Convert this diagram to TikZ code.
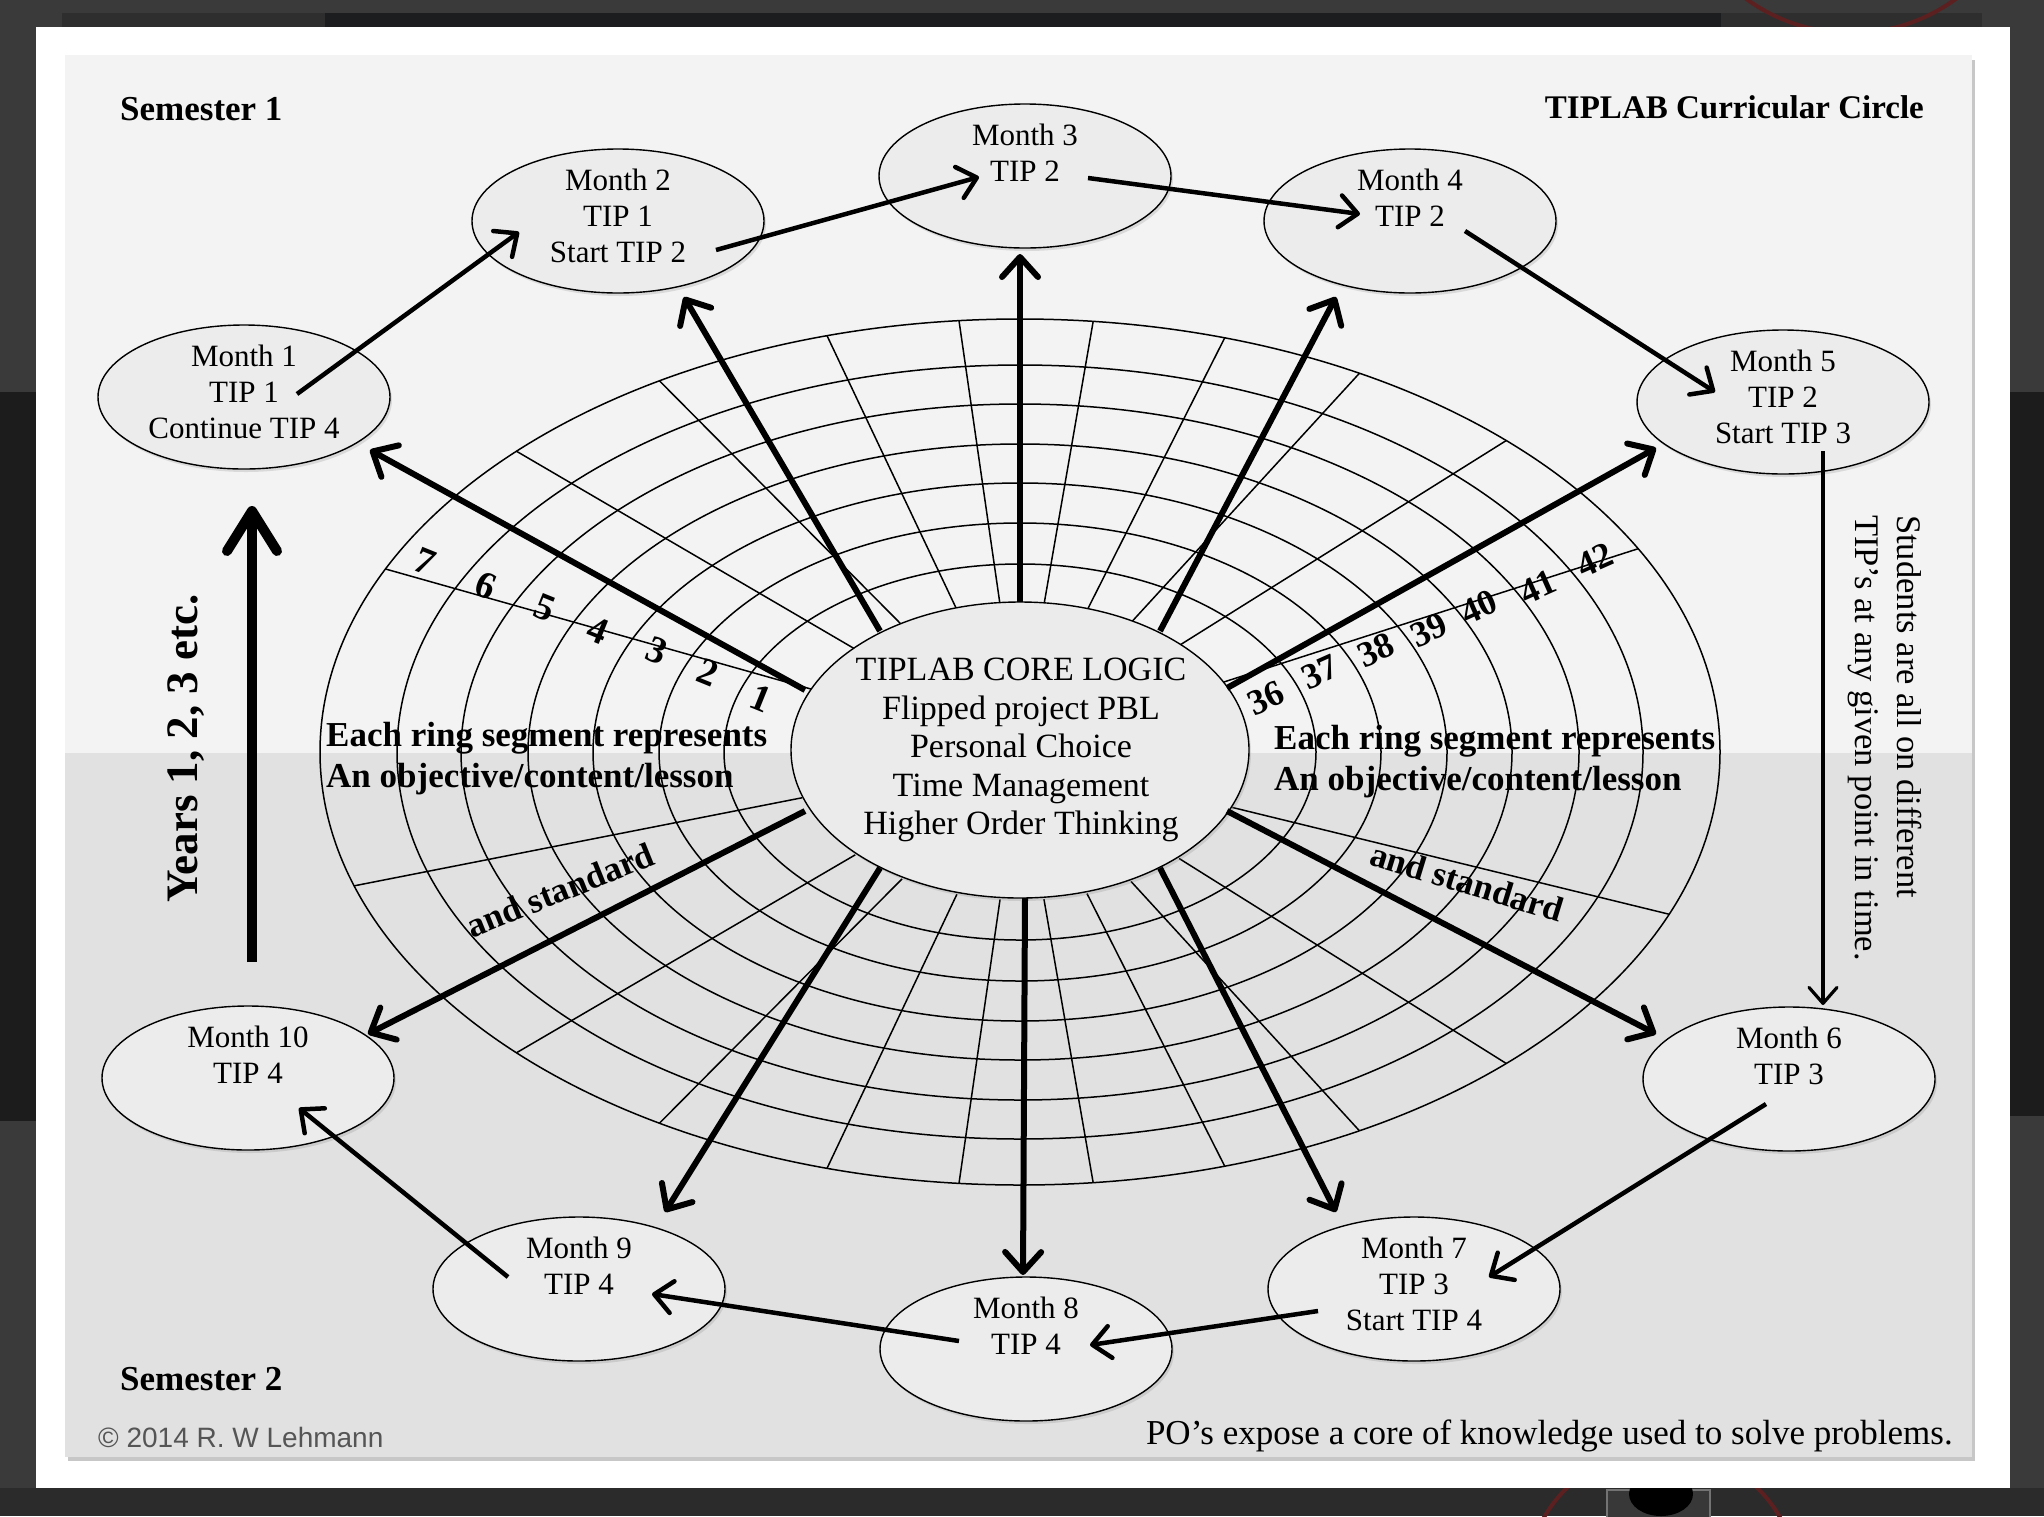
\documentclass[tikz,border=0pt]{standalone}
\usepackage{fontspec}
\setmainfont{Liberation Serif}
\newfontfamily\sansf{Liberation Sans}
\usetikzlibrary{shapes.geometric,arrows.meta,shadows}
\definecolor{bgdark}{HTML}{3A3A3A}
\definecolor{bgdeep}{HTML}{1C1C1C}
\definecolor{bgbot}{HTML}{2B2B2B}
\definecolor{stripA}{HTML}{2E2E2E}
\definecolor{stripB}{HTML}{1B1D1F}
\definecolor{redarc}{HTML}{5C2020}
\definecolor{paneltop}{HTML}{F3F3F4}
\definecolor{panelbot}{HTML}{E1E1E2}
\definecolor{monthfill}{HTML}{ECECEC}
\definecolor{corefill}{HTML}{EBEBEB}
\definecolor{copygray}{HTML}{555555}
\tikzset{
  monthshape/.style={ellipse, draw=black, line width=1.4pt, fill=monthfill,
    minimum width=292pt, minimum height=144pt, inner sep=0pt,
    drop shadow={shadow xshift=2pt, shadow yshift=-3pt, opacity=0.22}},
  monthtext/.style={align=center, inner sep=0pt, anchor=north,
    font=\fontsize{31pt}{36pt}\selectfont},
  gridline/.style={line width=1.5pt, black},
  corearrow/.style={line width=6pt, -{Straight Barb[length=20pt, width=36pt, round]}},
  ringarrow/.style={line width=4.5pt, -{Straight Barb[length=18pt, width=32pt, round]}},
  thinarrow/.style={line width=3.2pt, -{Straight Barb[length=16pt, width=28pt, round]}},
  bigarrow/.style={line width=10pt, -{Straight Barb[length=40pt, width=50pt, round]}},
  boldlbl/.style={inner sep=0pt, font=\bfseries\fontsize{35pt}{41pt}\selectfont},
  numL/.style={inner sep=0pt, rotate=-22, font=\bfseries\fontsize{38pt}{38pt}\selectfont},
  numR/.style={inner sep=0pt, rotate=24, font=\bfseries\fontsize{36pt}{36pt}\selectfont},
  sidetext/.style={inner sep=0pt, rotate=-90, anchor=base west,
    font=\fontsize{34.5pt}{40pt}\selectfont}
}
\begin{document}
\begin{tikzpicture}[x=1pt,y=-1pt]
\useasboundingbox (0,0) rectangle (2044,1516);
% surrounding screen
\fill[bgdark] (0,0) rectangle (2044,1516);
\fill[bgdeep] (0,392) rectangle (36,1121);
\fill[bgdeep] (2010,392) rectangle (2044,1116);
\fill[stripA] (62,13) rectangle (325,27);
\fill[stripB] (325,13) rectangle (1721,27);
\fill[stripA] (1721,13) rectangle (1982,27);
\fill[bgbot] (0,1488) rectangle (2044,1516);
\draw[redarc, line width=4pt] (1851,-145) circle [radius=178];
\draw[redarc, line width=4pt] (1662,1585) circle [radius=136];
\draw[black!55, line width=2pt, fill=black!78] (1607,1490) rectangle (1710,1530);
\fill[black] (1661,1494) ellipse [x radius=32, y radius=22];
% card and panel
\fill[white] (36,27) rectangle (2010,1488);
\fill[black!22] (68,60) rectangle (1975,1461);
\fill[paneltop] (65,55) rectangle (1972,753);
\fill[panelbot] (65,753) rectangle (1972,1457);

% ring grid
\foreach \a/\b in {296/188, 361/229, 427/269, 492/308, 559/348, 623/387, 700/433}
  \draw[gridline] (1020,752) ellipse [x radius=\a, y radius=\b];
\foreach \t in {28,46,61,73,84,95,106,121,136,155,198,224,239,254,265,276,287,299,314,338}
  \draw[gridline] ({1020+229*cos(\t)},{752-148*sin(\t)}) -- ({1020+700*cos(\t)},{752-433*sin(\t)});

% core
\node[ellipse, draw=black, line width=1.4pt, fill=corefill, minimum width=458pt,
  minimum height=296pt, inner sep=0pt,
  drop shadow={shadow xshift=2pt, shadow yshift=-3pt, opacity=0.22}] (core) at (1020,750) {};
\node[align=center, inner sep=0pt, font=\fontsize{34pt}{38.5pt}\selectfont] (coretxt) at (1021,750)
  {TIPLAB CORE LOGIC\\Flipped project PBL\\Personal Choice\\Time Management\\Higher Order Thinking};

% months
\node[monthshape] (m1) at (244,397) {};
\node[monthshape] (m2) at (618,221) {};
\node[monthshape] (m3) at (1025,176) {};
\node[monthshape] (m4) at (1410,221) {};
\node[monthshape] (m5) at (1783,402) {};
\node[monthshape] (m6) at (1789,1079) {};
\node[monthshape] (m7) at (1414,1289) {};
\node[monthshape] (m8) at (1026,1349) {};
\node[monthshape] (m9) at (579,1289) {};
\node[monthshape] (m10) at (248,1078) {};
\node[monthtext] (m1t) at ([shift={(0,-52)}]m1.center) {Month 1\\TIP 1\\Continue TIP 4};
\node[monthtext] (m2t) at ([shift={(0,-52)}]m2.center) {Month 2\\TIP 1\\Start TIP 2};
\node[monthtext] (m3t) at ([shift={(0,-52)}]m3.center) {Month 3\\TIP 2};
\node[monthtext] (m4t) at ([shift={(0,-52)}]m4.center) {Month 4\\TIP 2};
\node[monthtext] (m5t) at ([shift={(0,-52)}]m5.center) {Month 5\\TIP 2\\Start TIP 3};
\node[monthtext] (m6t) at ([shift={(0,-52)}]m6.center) {Month 6\\TIP 3};
\node[monthtext] (m7t) at ([shift={(0,-52)}]m7.center) {Month 7\\TIP 3\\Start TIP 4};
\node[monthtext] (m8t) at ([shift={(0,-52)}]m8.center) {Month 8\\TIP 4};
\node[monthtext] (m9t) at ([shift={(0,-52)}]m9.center) {Month 9\\TIP 4};
\node[monthtext] (m10t) at ([shift={(0,-52)}]m10.center) {Month 10\\TIP 4};

% arrows from core to months
\draw[corearrow] ([shift={(-215,-60)}]core.center) -- ([shift={(126,53)}]m1.center);
\draw[corearrow] ([shift={(-140,-119)}]core.center) -- ([shift={(66,76)}]m2.center);
\draw[corearrow] ([shift={(0,-148)}]core.center) -- ([shift={(-5,78)}]m3.center);
\draw[corearrow] ([shift={(140,-119)}]core.center) -- ([shift={(-74,76)}]m4.center);
\draw[corearrow] ([shift={(207,-62)}]core.center) -- ([shift={(-127,46)}]m5.center);
\draw[corearrow] ([shift={(207,61)}]core.center) -- ([shift={(-133,-45)}]m6.center);
\draw[corearrow] ([shift={(140,118)}]core.center) -- ([shift={(-78,-77)}]m7.center);
\draw[corearrow] ([shift={(5,148)}]core.center) -- ([shift={(-3,-74)}]m8.center);
\draw[corearrow] ([shift={(-140,118)}]core.center) -- ([shift={(86,-77)}]m9.center);
\draw[corearrow] ([shift={(-215,61)}]core.center) -- ([shift={(120,-44)}]m10.center);

% arrows around the circle
\draw[ringarrow] ([shift={(53,-3)}]m1.center) -- ([shift={(-99,11)}]m2.center);
\draw[ringarrow] ([shift={(98,29)}]m2.center) -- ([shift={(-46,1)}]m3.center);
\draw[ringarrow] ([shift={(63,2)}]m3.center) -- ([shift={(-50,-7)}]m4.center);
\draw[ringarrow] ([shift={(55,10)}]m4.center) -- ([shift={(-68,-10)}]m5.center);
\draw[thinarrow] ([shift={(40,49)}]m5.center) -- ([shift={(34,-74)}]m6.center);
\draw[ringarrow] ([shift={(-23,25)}]m6.center) -- ([shift={(75,-12)}]m7.center);
\draw[ringarrow] ([shift={(-96,22)}]m7.center) -- ([shift={(64,-4)}]m8.center);
\draw[ringarrow] ([shift={(-67,-8)}]m8.center) -- ([shift={(73,5)}]m9.center);
\draw[ringarrow] ([shift={(-71,-12)}]m9.center) -- ([shift={(51,30)}]m10.center);

% years arrow
\coordinate (ya) at (252,962);
\coordinate (yb) at (252,506);
\draw[bigarrow] (ya) -- (yb);
\node[inner sep=0pt, rotate=90, anchor=base west, font=\bfseries\fontsize{45pt}{45pt}\selectfont]
  (years) at (197,903) {Years 1, 2, 3 etc.};

% side text
\node[sidetext] (stud1) at (1897,515) {Students are all on different};
\node[sidetext] (stud2) at (1855,515) {TIP’s at any given point in time.};

% headings
\node[boldlbl, anchor=base west] (sem1) at (120,120) {Semester 1};
\node[inner sep=0pt, anchor=base east, font=\bfseries\fontsize{33pt}{33pt}\selectfont] (title) at (1924,118) {TIPLAB Curricular Circle};
\node[boldlbl, anchor=base west] (sem2) at (120,1390) {Semester 2};
\node[inner sep=0pt, anchor=base east, font=\fontsize{35pt}{35pt}\selectfont] (po) at (1953,1444)
  {PO’s expose a core of knowledge used to solve problems.};
\node[inner sep=0pt, anchor=base west, text=copygray, font=\sansf\fontsize{28pt}{28pt}\selectfont] (copy) at (98,1447)
  {© 2014 R. W Lehmann};

% ring texts
\node[boldlbl, anchor=base west, align=left] (eachL) at (326,787)
  {Each ring segment represents\\An objective/content/lesson};
\node[boldlbl, anchor=base west, align=left] (eachR) at (1274,790)
  {Each ring segment represents\\An objective/content/lesson};
\node[boldlbl, rotate=22] (andL) at (560,890) {and standard};
\node[boldlbl, rotate=-17] (andR) at (1467,882) {and standard};

% segment numbers
\node[numL] (n1) at (761,698) {1};
\node[numL] (n2) at (708,672) {2};
\node[numL] (n3) at (657,651) {3};
\node[numL] (n4) at (598,630) {4};
\node[numL] (n5) at (545,608) {5};
\node[numL] (n6) at (486,586) {6};
\node[numL] (n7) at (425,562) {7};
\node[numR] (n36) at (1266,698) {36};
\node[numR] (n37) at (1320,672) {37};
\node[numR] (n38) at (1376,650) {38};
\node[numR] (n39) at (1429,630) {39};
\node[numR] (n40) at (1479,607) {40};
\node[numR] (n41) at (1538,587) {41};
\node[numR] (n42) at (1595,560) {42};
\end{tikzpicture}
\end{document}
